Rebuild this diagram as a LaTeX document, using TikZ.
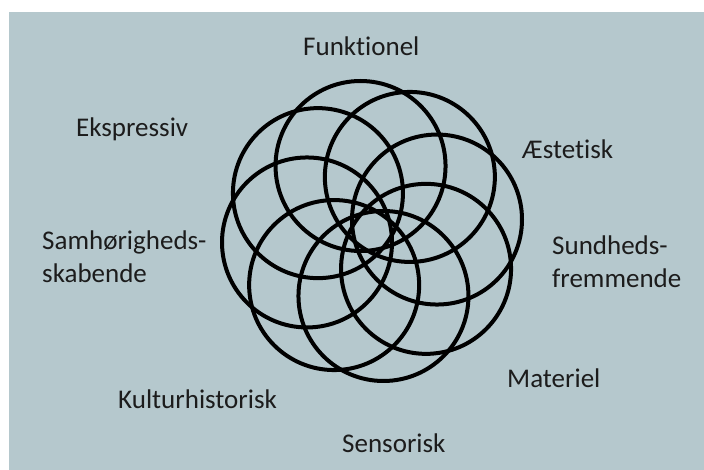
\documentclass[tikz,border=0pt]{standalone}
\usepackage{fontspec}
\setmainfont{Carlito}[Ligatures=NoCommon]
\definecolor{bgblue}{RGB}{181,200,205}
\definecolor{txt}{RGB}{28,28,28}
\begin{document}
\begin{tikzpicture}[x=1pt,y=-1pt,
  ring/.style={draw=black,line width=4pt},
  lbl/.style={inner sep=0pt,anchor=base west,text=txt,font=\fontsize{27}{33}\selectfont,align=left}]
\useasboundingbox (0,0) rectangle (704,470);
\fill[bgblue] (9,12) rectangle (704,470);
\coordinate (ctr) at (372,231);
\foreach \a in {100,55,10,-35,-80,-125,-170,145}{
  \draw[ring] ({372+66*cos(\a)},{231-66*sin(\a)}) circle[radius=85];
}
\node[lbl] (funk) at (303,56) {Funktionel};
\node[lbl] (eksp) at (76,137) {Ekspressiv};
\node[lbl] (aest) at (522,159) {Æstetisk};
\node[lbl] (samh) at (42,283) {Samhørigheds-\\skabende};
\node[lbl] (sund) at (552,288) {Sundheds-\\fremmende};
\node[lbl] (mate) at (507,387) {Materiel};
\node[lbl] (kult) at (118,408) {Kulturhistorisk};
\node[lbl] (sens) at (342,452) {Sensorisk};
\end{tikzpicture}
\end{document}
